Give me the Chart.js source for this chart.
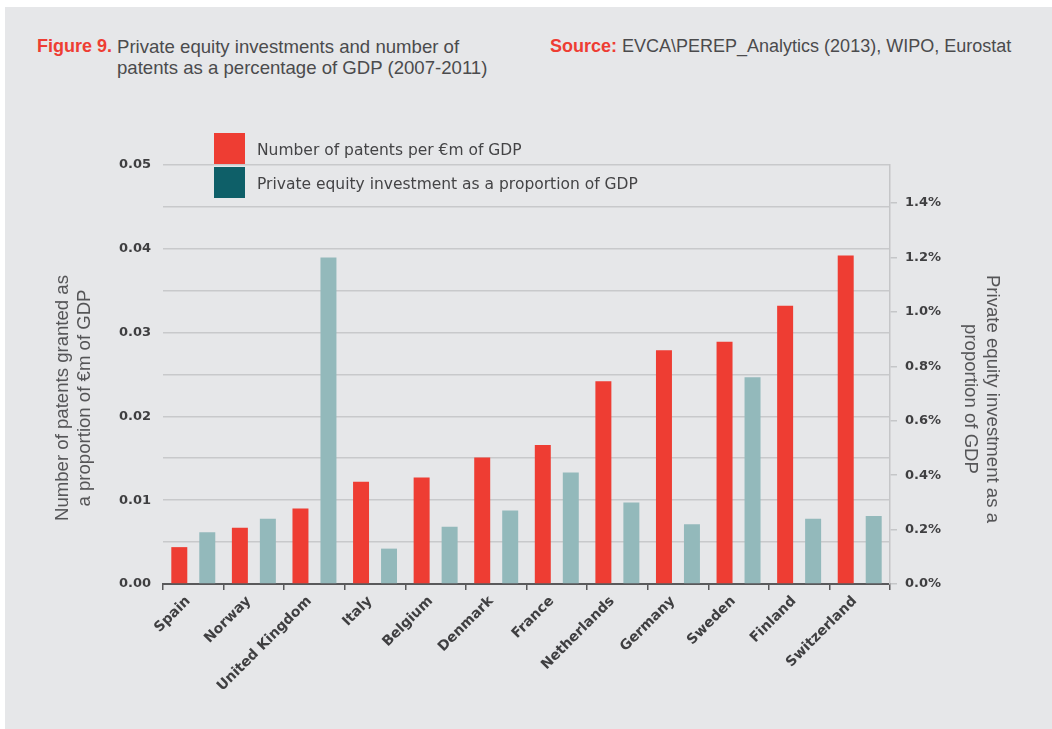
<!DOCTYPE html>
<html>
<head>
<meta charset="utf-8">
<script src="https://cdn.jsdelivr.net/npm/chart.js@4.4.1/dist/chart.umd.min.js"></script>
<style>
  html, body { margin: 0; padding: 0; background: #fff; }
  body { width: 1052px; height: 729px; position: relative; overflow: hidden; }
  #panel { position: absolute; left: 5px; top: 7px; right: 0; bottom: 0; background: #e6e7e9; }
  #chart { position: absolute; left: 0; top: 0; }
  .hdr { position: absolute; font-family: "Liberation Sans", Arial, sans-serif; font-size: 18px; line-height: 21px; color: #4b4b4d; }
  .hdr b { color: #ee3d33; }
  .legend { position: absolute; left: 214px; font-family: "DejaVu Sans", sans-serif; font-size: 15.5px; color: #444446; }
  .legend span.sw { position: absolute; left: 0; top: 0; width: 31px; height: 31px; }
  .legend span.tx { position: absolute; left: 43px; top: 8px; white-space: nowrap; }
  .axt { position: absolute; width: 320px; height: 44px; text-align: center; font-family: "Liberation Sans", Arial, sans-serif; font-size: 18.6px; line-height: 22px; color: #555557; white-space: nowrap; }
</style>
</head>
<body>
<div id="panel"></div>
<div class="hdr" style="left:37px; top:36px;"><b>Figure 9.</b></div>
<div class="hdr" style="left:117px; top:36px; font-size:18.6px;">Private equity investments and number of<br>patents as a percentage of GDP (2007-2011)</div>
<div class="hdr" style="left:550px; top:36px;"><b>Source:</b> EVCA\PEREP_Analytics (2013), WIPO, Eurostat</div>

<canvas id="chart" width="1052" height="729"></canvas>

<div class="legend" style="top:133px;"><span class="sw" style="background:#ee3d33"></span><span class="tx">Number of patents per €m of GDP</span></div>
<div class="legend" style="top:167px;"><span class="sw" style="background:#0e5f68"></span><span class="tx">Private equity investment as a proportion of GDP</span></div>

<div class="axt" style="left:-87px; top:376px; transform:rotate(-90deg);">Number of patents granted as<br>a proportion of €m of GDP</div>
<div class="axt" style="left:822px; top:377px; transform:rotate(90deg);">Private equity investment as a<br>proportion of GDP</div>

<script>
// values
const countries = ['Spain', 'Norway', 'United Kingdom', 'Italy', 'Belgium', 'Denmark',
  'France', 'Netherlands', 'Germany', 'Sweden', 'Finland', 'Switzerland'];
// patents per €m of GDP (left axis)
const patents = [0.0044, 0.0067, 0.0090, 0.0122, 0.0127, 0.0151, 0.0166, 0.0242, 0.0279, 0.0289, 0.0332, 0.0392];
// private equity investment, % of GDP (right axis)
const equity = [0.19, 0.24, 1.20, 0.13, 0.21, 0.27, 0.41, 0.30, 0.22, 0.76, 0.24, 0.25];

const leftMax = 0.05;
const rightMax = 1.54;

const red = '#ee3d33';
const teal = '#93b9bb';
const tickColor = '#3f3f41';

const ctx = document.getElementById('chart').getContext('2d');
new Chart(ctx, {
  type: 'bar',
  data: {
    labels: countries,
    datasets: [
      { label: 'Number of patents per €m of GDP', data: patents, backgroundColor: red, yAxisID: 'y' },
      { label: 'Private equity investment as a proportion of GDP', data: equity, backgroundColor: teal, yAxisID: 'y2' }
    ]
  },
  options: {
    responsive: false,
    animation: false,
    categoryPercentage: 0.924,
    barPercentage: 0.571,
    layout: { padding: { top: 165, left: 0, right: 0, bottom: 0 } },
    plugins: { legend: { display: false }, tooltip: { enabled: false } },
    scales: {
      x: {
        afterFit: s => { s.height = 145; },
        border: { display: true, color: '#59595b', width: 2 },
        grid: { drawOnChartArea: false, drawTicks: true, tickLength: 6, color: '#59595b', lineWidth: 1.5, offset: true },
        ticks: {
          color: tickColor, maxRotation: 45, minRotation: 45, autoSkip: false, padding: 3, labelOffset: -5,
          font: { family: 'DejaVu Sans', weight: 'bold', size: 14 }
        }
      },
      y: {
        position: 'left',
        min: 0, max: leftMax,
        afterFit: s => { s.width = 163; },
        border: { display: false },
        grid: { color: '#c8c9cb', lineWidth: 1.6, drawTicks: false },
        ticks: {
          stepSize: 0.005, maxTicksLimit: 20, padding: 12, color: tickColor,
          font: { family: 'DejaVu Sans', weight: 'bold', size: 13 },
          callback: v => {
            const k = Math.round(v * 1000);
            return k % 10 === 0 ? (k / 1000).toFixed(2) : '';
          }
        }
      },
      y2: {
        position: 'right',
        min: 0, max: rightMax,
        afterFit: s => { s.width = 1052 - 890; },
        afterBuildTicks: s => {
          s.ticks = s.ticks.filter(t => Math.abs(t.value * 5 - Math.round(t.value * 5)) < 1e-6);
        },
        border: { display: true, color: '#c5c6c8', width: 1.5 },
        grid: { drawOnChartArea: false, drawTicks: true, tickLength: 7, color: '#c5c6c8', lineWidth: 1.5 },
        ticks: {
          stepSize: 0.2, padding: 8, color: tickColor,
          font: { family: 'DejaVu Sans', weight: 'bold', size: 13 },
          callback: v => v.toFixed(1) + '%'
        }
      }
    }
  }
});
</script>
</body>
</html>
